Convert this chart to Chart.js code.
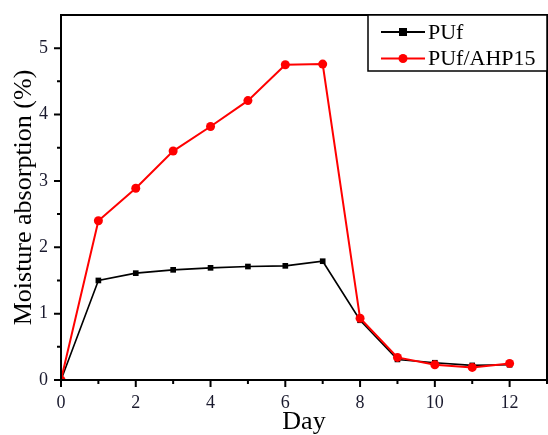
<!DOCTYPE html>
<html>
<head>
<meta charset="utf-8">
<script src="https://cdn.jsdelivr.net/npm/chart.js@4.4.1/dist/chart.umd.min.js"></script>
<style>
  html, body { margin: 0; padding: 0; background: #fff; }
  #wrap { width: 548px; height: 435px; }
</style>
</head>
<body>
<div id="wrap"><canvas id="moistChart" width="548" height="435"></canvas></div>
<script>
// dados
const days = [0, 1, 2, 3, 4, 5, 6, 7, 8, 9, 10, 11, 12];
const pufValues = [0, 1.50, 1.61, 1.66, 1.69, 1.71, 1.72, 1.79, 0.90, 0.31, 0.26, 0.22, 0.23];
const ahpValues = [0, 2.40, 2.89, 3.45, 3.82, 4.21, 4.75, 4.76, 0.93, 0.34, 0.23, 0.19, 0.25];
const seriesNames = ['PUf', 'PUf/AHP15'];
const xTicks = [0, 2, 4, 6, 8, 10, 12];
const xMinorTicks = [1, 3, 5, 7, 9, 11, 13];
const yTicks = [0, 1, 2, 3, 4, 5];
const yMinorTicks = [0.5, 1.5, 2.5, 3.5, 4.5];

const serif = "'Liberation Serif', 'Times New Roman', serif";

// ticks para fora + moldura + legenda com caixa
const framePlugin = {
    id: 'frame',
    afterDraw(chart) {
        const c = chart.ctx;
        const a = chart.chartArea;
        const xs = chart.scales.x, ys = chart.scales.y;
        c.save();
        c.strokeStyle = '#000';
        c.lineWidth = 2;
        // moldura
        c.strokeRect(a.left, a.top, a.right - a.left, a.bottom - a.top);
        // ticks maiores e menores
        c.beginPath();
        xTicks.forEach(v => { const px = xs.getPixelForValue(v); c.moveTo(px, a.bottom); c.lineTo(px, a.bottom + 7); });
        xMinorTicks.forEach(v => { const px = xs.getPixelForValue(v); c.moveTo(px, a.bottom); c.lineTo(px, a.bottom + 4); });
        yTicks.forEach(v => { const py = ys.getPixelForValue(v); c.moveTo(a.left, py); c.lineTo(a.left - 7, py); });
        yMinorTicks.forEach(v => { const py = ys.getPixelForValue(v); c.moveTo(a.left, py); c.lineTo(a.left - 4, py); });
        c.stroke();

        // legenda
        const bw = 179, bh = 56;
        const bx = a.right - bw, by = a.top;
        c.fillStyle = '#fff';
        c.fillRect(bx, by, bw, bh);
        c.lineWidth = 1.5;
        c.strokeRect(bx, by, bw, bh);
        c.font = '22px ' + serif;
        c.textBaseline = 'middle';
        chart.data.datasets.forEach((ds, i) => {
            const ly = by + 17 + i * 26.5;
            c.strokeStyle = ds.borderColor;
            c.lineWidth = 2;
            c.beginPath();
            c.moveTo(bx + 13, ly);
            c.lineTo(bx + 57, ly);
            c.stroke();
            c.fillStyle = ds.borderColor;
            if (ds.pointStyle === 'rect') {
                c.fillRect(bx + 35 - 4, ly - 4, 8, 8);
            } else {
                c.beginPath();
                c.arc(bx + 35, ly, 4.5, 0, Math.PI * 2);
                c.fill();
            }
            c.fillStyle = '#000';
            c.fillText(ds.label, bx + 60, ly + 1);
        });
        c.restore();
    }
};

const ctx = document.getElementById('moistChart').getContext('2d');
const chart = new Chart(ctx, {
    type: 'line',
    data: {
        labels: days,
        datasets: [{
            label: seriesNames[0],
            data: days.map((d, i) => ({ x: d, y: pufValues[i] })),
            borderColor: '#000000',
            backgroundColor: '#000000',
            borderWidth: 1.6,
            pointStyle: 'rect',
            pointRadius: 4,
            pointBorderWidth: 0,
            tension: 0,
            order: 2
        }, {
            label: seriesNames[1],
            data: days.map((d, i) => ({ x: d, y: ahpValues[i] })),
            borderColor: '#ff0000',
            backgroundColor: '#ff0000',
            borderWidth: 2,
            pointStyle: 'circle',
            pointRadius: 4.5,
            pointBorderWidth: 0,
            tension: 0,
            order: 1
        }]
    },
    options: {
        responsive: false,
        animation: false,
        layout: { autoPadding: false, padding: { top: 15, right: 1, left: 0, bottom: 0 } },
        plugins: { legend: { display: false }, tooltip: { enabled: false } },
        scales: {
            x: {
                type: 'linear',
                min: 0,
                max: 13,
                afterBuildTicks: s => { s.ticks = xTicks.map(v => ({ value: v })); },
                afterFit: s => { s.height = 55; s.paddingLeft = 0; s.paddingRight = 0; },
                grid: { display: false, drawTicks: false, tickLength: 0 },
                border: { display: true, color: '#000', width: 2 },
                ticks: { color: '#1a1a2e', font: { family: serif, size: 18 }, padding: 12, maxRotation: 0 },
                title: { display: true, text: 'Day', color: '#000', font: { family: serif, size: 26, lineHeight: 1 }, padding: { top: 0, bottom: 0 } }
            },
            y: {
                min: 0,
                max: 5.5,
                afterBuildTicks: s => { s.ticks = yTicks.map(v => ({ value: v })); },
                afterFit: s => { s.width = 61; s.paddingTop = 0; s.paddingBottom = 0; },
                grid: { display: false, drawTicks: false, tickLength: 0 },
                border: { display: true, color: '#000', width: 2 },
                ticks: { color: '#1a1a2e', font: { family: serif, size: 18 }, padding: 13 },
                title: { display: true, text: 'Moisture absorption (%)', color: '#000', font: { family: serif, size: 26, lineHeight: 1 }, padding: { top: 11, bottom: 0 } }
            }
        }
    },
    plugins: [framePlugin]
});
</script>
</body>
</html>
